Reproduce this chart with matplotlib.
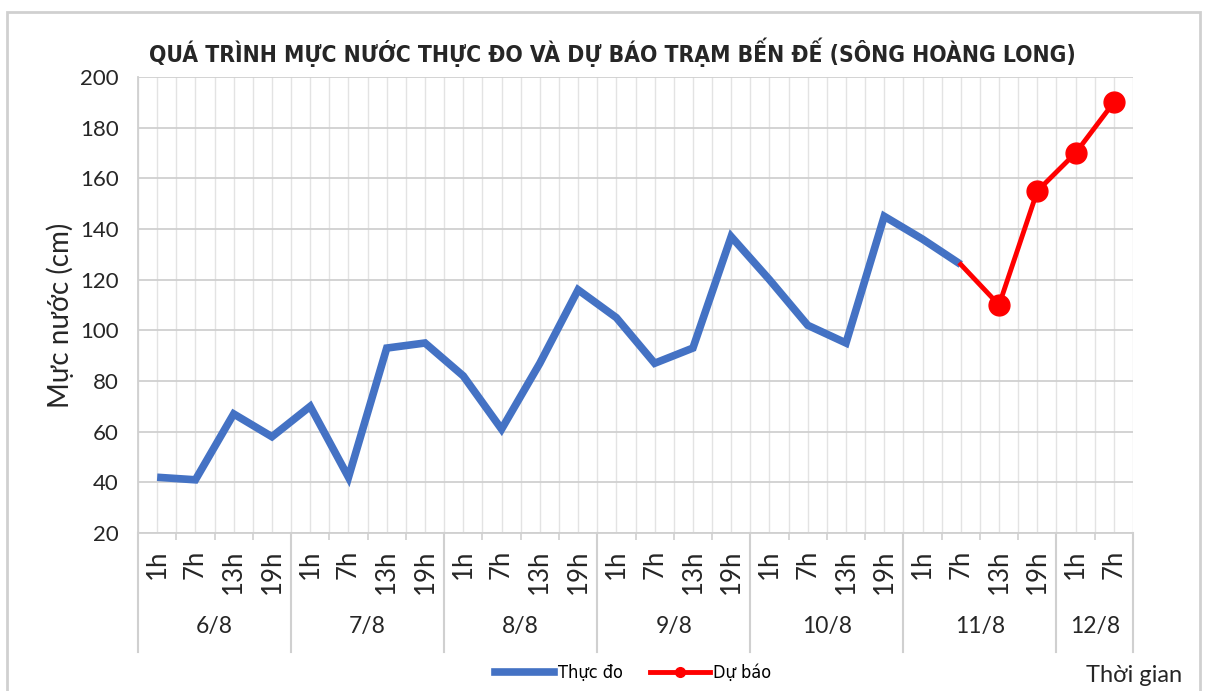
import numpy as np
import matplotlib
matplotlib.use("Agg")
import matplotlib.pyplot as plt
from matplotlib import font_manager
from matplotlib.font_manager import FontProperties
from matplotlib.lines import Line2D
from matplotlib.patches import Rectangle
from matplotlib.transforms import blended_transform_factory

# Dữ liệu
days = ["6/8", "7/8", "8/8", "9/8", "10/8", "11/8", "12/8"]
day_counts = [4, 4, 4, 4, 4, 4, 2]
hours = ["1h", "7h", "13h", "19h"] * 6 + ["1h", "7h"]
thuc_do = [42, 41, 67, 58, 70, 42, 93, 95, 82, 61, 87, 116,
           105, 87, 93, 137, 120, 102, 95, 145, 136, 126]
du_bao = [126, 110, 155, 170, 190]
du_bao_start = 21


def find_narrow(bold):
    # tìm một font hẹp (condensed / narrow) có sẵn
    best = None
    for f in font_manager.fontManager.ttflist:
        name = (f.name + " " + f.fname).lower()
        if not any(k in name for k in ("condensed", "narrow", "cond")):
            continue
        if "semi" in name or "extra" in name or "italic" in name or "oblique" in name:
            continue
        is_bold = f.weight in ("bold", 700) or "bold" in f.fname.lower()
        if is_bold != bold:
            continue
        rank = 0 if "noto" in name or "liberation" in name else 1
        if best is None or rank < best[0]:
            best = (rank, f.fname)
    if best:
        return FontProperties(fname=best[1])
    return FontProperties(family="DejaVu Sans", weight="bold" if bold else "normal")


W, H = 1208, 691
fig = plt.figure(figsize=(W / 100, H / 100), dpi=100)
fig.patch.set_facecolor("white")
sans = ["Lato", "DejaVu Sans"]
txt = "#262626"

# khung ngoài
fig.patches.append(Rectangle((7 / W, -0.05), 1193 / W, 1 - 12 / H + 0.05,
                             transform=fig.transFigure, fill=False,
                             edgecolor="#d0d0d0", lw=2, zorder=0))

ax = fig.add_axes([138 / W, 1 - 533 / H, (1133 - 138) / W, (533 - 77) / H])

x_do = np.arange(len(thuc_do))
x_bao = np.arange(du_bao_start, du_bao_start + len(du_bao))

ax.plot(x_do, thuc_do, color="#4472C4", lw=5.5, solid_joinstyle="miter",
        solid_capstyle="butt", zorder=3)
ax.plot(x_bao, du_bao, color="#FF0000", lw=3.5, marker="o", markersize=15,
        markevery=list(range(1, len(du_bao))), zorder=4)

n = len(hours)
ax.set_xlim(-0.5, n - 0.5)
ax.set_ylim(20, 200)
ax.set_yticks(np.arange(20, 201, 20))
ax.set_xticks(np.arange(n))
ax.set_xticklabels(hours, rotation=90, fontsize=18.5, family=sans, color=txt)
ax.set_xticks(np.arange(-0.5, n, 1), minor=True)
ax.tick_params(axis="x", which="major", length=0, pad=12)
ax.tick_params(axis="x", which="minor", length=5, color="#d0d0d0", width=1.2)
ax.tick_params(axis="y", length=0, pad=14, labelsize=16, labelcolor=txt)
for lb in ax.get_yticklabels():
    lb.set_family(sans)

ax.grid(axis="y", color="#d0d0d0", lw=1.3)
ax.grid(axis="x", which="both", color="#e3e3e3", lw=1.0)
ax.set_axisbelow(True)
for s in ["top", "right"]:
    ax.spines[s].set_visible(False)
for s in ["left", "bottom"]:
    ax.spines[s].set_color("#d0d0d0")
    ax.spines[s].set_linewidth(1.3)

# nhãn ngày + vạch phân cách
trans = blended_transform_factory(ax.transData, fig.transFigure)
pos = -0.5
bounds = [pos]
for d, c in zip(days, day_counts):
    ax.text(pos + c / 2, 1 - 627 / H, d, transform=trans, ha="center",
            va="center", fontsize=16.5, color=txt, family=sans)
    pos += c
    bounds.append(pos)
for b in bounds:
    fig.add_artist(Line2D([b, b], [1 - 533 / H, 1 - 652 / H], transform=trans,
                          color="#d0d0d0", lw=1.5))

fig.text(60 / W, 1 - 315 / H, "Mực nước (cm)", rotation=90, ha="center",
         va="center", fontsize=20, color=txt, family=sans)

# tiêu đề, co cỡ chữ cho vừa chiều rộng như bản gốc
fp_title = find_narrow(True)
fp_title.set_size(19)
title = fig.text(612 / W, 1 - 52 / H,
                 "QUÁ TRÌNH MỰC NƯỚC THỰC ĐO VÀ DỰ BÁO TRẠM BẾN ĐẾ (SÔNG HOÀNG LONG)",
                 ha="center", va="center", color=txt, fontproperties=fp_title)
rend = fig.canvas.get_renderer()
w = title.get_window_extent(rend).width
if w > 930:
    fp_title.set_size(19 * 925 / w)
    title.set_fontproperties(fp_title)

fp_leg = find_narrow(False)
fp_leg.set_size(13)
handles = [Line2D([], [], color="#4472C4", lw=5.5),
           Line2D([], [], color="#FF0000", lw=3.5, marker="o", markersize=7)]
fig.legend(handles, ["Thực đo", "Dự báo"], loc="center", ncol=2,
           bbox_to_anchor=(633 / W, 1 - 673 / H), frameon=False,
           prop=fp_leg, handlelength=3.3, handletextpad=0.2, columnspacing=1.5)

fig.text(1134 / W, 1 - 676 / H, "Thời gian", ha="center", va="center",
         fontsize=17, color=txt, family=sans)

fig.savefig("out.png", dpi=100)
